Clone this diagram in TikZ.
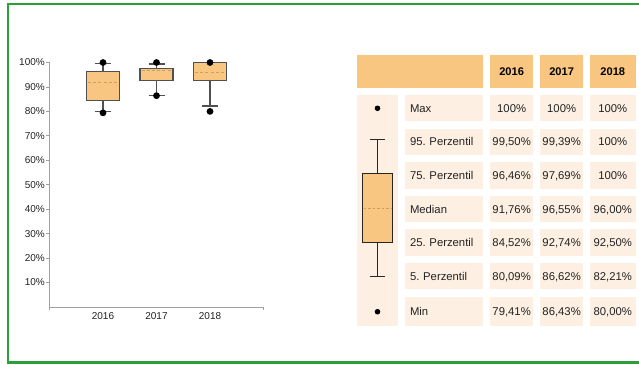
\documentclass[tikz,border=0pt]{standalone}
\usepackage{fontspec}
\setmainfont{Liberation Sans}
\frenchspacing
\definecolor{hdrorange}{HTML}{F8C680}
\definecolor{cream}{HTML}{FDF0E3}
\definecolor{framegreen}{HTML}{2BA038}
\definecolor{boxedge}{HTML}{505050}
\definecolor{meddashc}{HTML}{C8A066}
\definecolor{axisgray}{HTML}{A0A0A0}
\definecolor{txt}{HTML}{222222}
\newcommand\tablerow[7]{%
  \node[tcell, lcol, minimum height=#3] (#1lab) at (444.15,#2) {#4};
  \node[tcell, minimum width=43.3pt, minimum height=#3] (#1a) at (511.65,#2) {#5};
  \node[tcell, minimum width=43.3pt, minimum height=#3] (#1b) at (561.65,#2) {#6};
  \node[tcell, minimum width=45.5pt, minimum height=#3] (#1c) at (612.75,#2) {#7};
}
\newcommand\bplot[8]{%
  \draw[whisk] (#1,{307-2.445*#7}) -- (#1,{307-2.445*#6});
  \draw[whisk] (#1,{307-2.445*#4}) -- (#1,{307-2.445*#3});
  \draw[whisk] (#1-8,{307-2.445*#7}) -- (#1+8,{307-2.445*#7});
  \draw[whisk] (#1-8,{307-2.445*#3}) -- (#1+8,{307-2.445*#3});
  \filldraw[boxst] (#1-16.5,{307-2.445*#6}) rectangle (#1+16.5,{307-2.445*#4});
  \draw[meddash] (#1-15,{307-2.445*#5}) -- (#1+15,{307-2.445*#5});
  \fill[black] (#1,{307-2.445*#8}) circle (3.4);
  \fill[black] (#1,{307-2.445*#2}) circle (3.4);
}
\begin{document}
\begin{tikzpicture}[x=1pt,y=-1pt,
  tcell/.style={fill=cream, inner sep=0pt, text=txt, text height=8.1pt, text depth=0pt,
    font=\fontsize{11.3}{13}\selectfont},
  lcol/.style={text width=68.3pt, align=left, inner xsep=5pt},
  hcell/.style={fill=hdrorange, inner sep=0pt, text=black, text height=8.1pt, text depth=0pt,
    minimum height=33.3pt, font=\fontsize{11.1}{13}\selectfont\bfseries},
  axlab/.style={text=txt, font=\fontsize{10}{12}\selectfont, inner sep=0pt},
  whisk/.style={draw=boxedge, line width=1.2pt},
  boxst/.style={fill=hdrorange, draw=boxedge, line width=1.2pt},
  meddash/.style={draw=meddashc, line width=1pt, dash pattern=on 3pt off 2.2pt},
  legline/.style={draw=black!85, line width=1pt}]
\useasboundingbox (0,0) rectangle (639,364);
% frame
\draw[framegreen, line width=2.2pt] (639,4) -- (8,4) -- (8,362.5) -- (639,362.5);

% ---------- chart ----------
\draw[axisgray, line width=0.8pt] (49,61.5) -- (49,309.5);
\draw[axisgray, line width=0.8pt] (49,307) -- (263,307) -- (263,309.5);
\foreach \v in {10,20,...,100}{
  \draw[axisgray, line width=0.8pt] (46,{307-2.445*\v}) -- (49,{307-2.445*\v});
  \node[axlab, anchor=east] (yl\v) at (45,{307-2.445*\v}) {\v\%};
}
\node[axlab] (x2016) at (103,316) {2016};
\node[axlab] (x2017) at (156.5,316) {2017};
\node[axlab] (x2018) at (210,316) {2018};

\bplot{103}{79.41}{80.09}{84.52}{91.76}{96.46}{99.50}{100}
\bplot{156.5}{86.43}{86.62}{92.74}{96.55}{97.69}{99.39}{100}
\bplot{210}{80.00}{82.21}{92.50}{96.00}{100}{100}{100}

% ---------- table ----------
\node[hcell, minimum width=126.6pt] (hwide) at (420,71.35) {};
\node[hcell, minimum width=43.3pt] (h2016) at (511.65,71.35) {2016};
\node[hcell, minimum width=43.3pt] (h2017) at (561.65,71.35) {2017};
\node[hcell, minimum width=45.5pt] (h2018) at (612.75,71.35) {2018};

\node[fill=cream, inner sep=0pt, minimum width=41.6pt, minimum height=231pt] (symcol) at (377.5,210.5) {};

\tablerow{max}{108.15}{26.3pt}{Max}{100\%}{100\%}{100\%}
\tablerow{pnf}{141.75}{26.3pt}{95. Perzentil}{99,50\%}{99,39\%}{100\%}
\tablerow{psf}{175.35}{26.3pt}{75. Perzentil}{96,46\%}{97,69\%}{100\%}
\tablerow{med}{208.95}{26.3pt}{Median}{91,76\%}{96,55\%}{96,00\%}
\tablerow{ptf}{242.55}{26.3pt}{25. Perzentil}{84,52\%}{92,74\%}{92,50\%}
\tablerow{pf}{276.15}{26.3pt}{5. Perzentil}{80,09\%}{86,62\%}{82,21\%}
\tablerow{min}{311.3}{29.4pt}{Min}{79,41\%}{86,43\%}{80,00\%}

% legend box plot
\draw[legline] (377.5,139) -- (377.5,175.35);
\draw[legline] (377.5,242.55) -- (377.5,276.6);
\draw[legline] (369.6,139) -- (385.4,139);
\draw[legline] (369.6,276.6) -- (385.4,276.6);
\filldraw[fill=hdrorange, legline] (362.3,173) rectangle (392.7,242.3);
\draw[meddashc, line width=0.8pt, dash pattern=on 2.5pt off 2pt] (363.5,208.3) -- (391.5,208.3);
\fill[black] (377.5,108.3) circle (2.8);
\fill[black] (377.5,311.7) circle (2.8);
\end{tikzpicture}
\end{document}
